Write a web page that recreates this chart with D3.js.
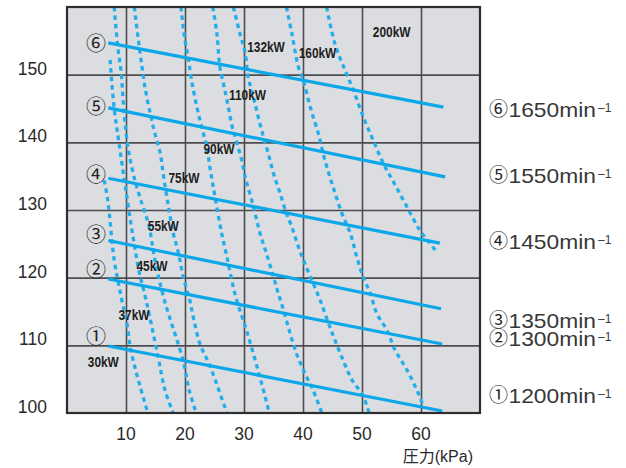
<!DOCTYPE html>
<html><head><meta charset="utf-8">
<script src="https://cdn.jsdelivr.net/npm/d3@7"></script>
<style>body{margin:0;background:#fff}svg{display:block}</style>
</head><body><svg id="c" width="626" height="468"></svg>
<script>
// ---- data ----
const pressureTicks = [10, 20, 30, 40, 50, 60];
const flowTicks = [100, 110, 120, 130, 140, 150];
const speedMarks = ["①", "②", "③", "④", "⑤", "⑥"];
const speedRpm = ["1200", "1300", "1350", "1450", "1550", "1650"];
const speedStart = [[7, 109.9], [7, 119.8], [7, 125.5], [7, 134.7], [7, 145.1], [7, 154.7]];
const speedEnd = [[63.6, 100.3], [63.6, 110.2], [63.4, 115.4], [63.2, 125.1], [64.1, 134.9], [63.8, 145.2]];
const powerLabels = ["30kW", "37kW", "45kW", "55kW", "75kW", "90kW", "110kW", "132kW", "160kW", "200kW"];
const kw30 = [];
const kw37 = [[6.3,134.4],[6.9,131.5],[8.0,122.6],[9.2,117.1],[10.2,113.0],[10.7,109.8],[11.5,106.8],[12.4,103.9],[13.7,100]];
const kw45 = [[7.3,152.2],[8.0,145],[8.8,140],[9.9,133.4],[11.2,126],[12.2,121],[13.4,116.7],[15.4,108.5],[16.6,103.4],[18.0,100]];
const kw55 = [[8.0,160],[8.6,154.1],[9.2,150.2],[9.5,146.3],[9.9,142.3],[10.5,138.4],[11.5,134.4],[12.5,131.5],[13.9,127.6],[14.9,122.6],[16.5,116.7],[19.7,107.7],[20.7,103.4],[21.9,100]];
const kw75 = [[11.4,160],[12.1,155.1],[12.7,151.2],[13.2,148.2],[14.1,144.3],[14.9,141.3],[15.8,138.4],[16.3,135.4],[17.2,130.5],[18.0,126.6],[18.9,123.6],[19.7,120.1],[20.8,116.7],[21.4,114.2],[22.5,110.3],[24.2,107.0],[27.1,100]];
const kw90 = [[19.3,160],[20.0,155.1],[20.6,152.2],[21.1,149.2],[22.0,145.3],[22.8,142.3],[23.7,139.4],[24.2,136.4],[24.8,133.4],[26.2,126.6],[27.1,123.1],[28.5,117.5],[30.5,112],[32.6,105.6],[34.3,100]];
const kw110 = [[24.7,160],[25.4,156.1],[25.9,151.2],[26.5,148.7],[27.1,146.3],[28.0,142.3],[28.8,139.9],[29.6,137.4],[30.2,134.9],[31.6,130.5],[32.7,126.6],[33.8,123.6],[35.0,120.1],[35.8,117.7],[36.7,115.2],[37.8,111.8],[38.9,108.8],[40.3,105.9],[41.7,103.4],[43.2,100]];
const kw132 = [[28.2,160],[29.3,156.1],[30.2,153.2],[30.7,149.7],[31.6,146.7],[32.4,143.8],[33.3,140.8],[34.1,138.4],[35.0,135.4],[36.1,132.5],[37.2,129.5],[38.1,127.5],[39.2,124.6],[40.3,122.1],[41.7,119.2],[42.9,116.7],[44.3,113.3],[45.4,110.8],[46.8,107.8],[48.3,104.9],[50.2,102.5],[51.2,100]];
const kw160 = [[37.2,160],[38.1,156.1],[39.2,151.2],[40.1,149.0],[41.2,145.3],[42.6,141.3],[43.7,137.4],[45.1,133.4],[46.6,129.5],[48.0,126.6],[49.1,123.1],[50.2,120.1],[51.4,117.7],[52.5,114.7],[54.2,112.3],[55.6,109.3],[57.6,106.4],[59.8,102.4],[60.3,101.2]];
const kw200 = [[44.0,160],[45.4,154.6],[47.1,150.7],[48.5,147.8],[50.2,143.8],[51.9,140.3],[53.6,136.9],[55.3,134.2],[57.6,130.5],[59.8,127.0],[61.5,125.1],[62.4,124.1]];
const powerCurves = [kw30, kw37, kw45, kw55, kw75, kw90, kw110, kw132, kw160, kw200];

// ---- layout ----
const svg = d3.select("#c");
const x = d3.scaleLinear().domain([0, 70]).range([67, 480]);
const y = d3.scaleLinear().domain([100, 160]).range([413, 7]);
const BLUE = "#0ba7e8", DOT = "#22aeeb";
const sans = "'Liberation Sans', Arial, Helvetica, sans-serif";
const cjk = "'Noto Sans CJK JP', 'DejaVu Sans', sans-serif";

svg.append("rect").attr("x", x(0)).attr("y", y(160)).attr("width", x(70) - x(0)).attr("height", y(100) - y(160)).attr("fill", "#dcdde0");

// grid via axes
svg.append("g").attr("transform", `translate(0,${y(100)})`)
  .call(d3.axisBottom(x).tickValues(pressureTicks).tickSize(-(y(100) - y(160))).tickFormat(""))
  .call(g => g.select(".domain").remove())
  .call(g => g.selectAll("line").attr("stroke", "#4d4d4f").attr("stroke-width", 1.6));
svg.append("g").attr("transform", `translate(${x(0)},0)`)
  .call(d3.axisLeft(y).tickValues(flowTicks.slice(1)).tickSize(-(x(70) - x(0))).tickFormat(""))
  .call(g => g.select(".domain").remove())
  .call(g => g.selectAll("line").attr("stroke", "#4d4d4f").attr("stroke-width", 1.6));

// tick labels
svg.append("g").selectAll("text").data(flowTicks).join("text")
  .attr("x", 47).attr("y", d => y(d)).attr("text-anchor", "end")
  .attr("font-family", sans).attr("font-size", 17.5).attr("fill", "#2a2a2a").text(d => d);
svg.append("g").selectAll("text").data(pressureTicks).join("text")
  .attr("x", d => x(d)).attr("y", 439.5).attr("text-anchor", "middle")
  .attr("font-family", sans).attr("font-size", 17.5).attr("fill", "#2a2a2a").text(d => d);
svg.append("text").attr("x", 473).attr("y", 461.5).attr("text-anchor", "end")
  .attr("font-family", sans + ", 'Noto Sans CJK JP'").attr("font-size", 16).attr("fill", "#2a2a2a").text("圧力(kPa)");

// power curves (dotted)
const pline = d3.line().x(d => x(d[0])).y(d => y(d[1])).curve(d3.curveCatmullRom.alpha(0.5));
svg.append("g").selectAll("path").data(powerCurves.filter(c => c.length)).join("path")
  .attr("d", pline).attr("fill", "none").attr("stroke", DOT).attr("stroke-width", 3.3)
  .attr("stroke-dasharray", "4.5,4");

// speed lines
const speedData = speedStart.map((s, i) => [s, speedEnd[i]]);
svg.append("g").selectAll("path").data(speedData).join("path")
  .attr("d", d3.line().x(d => x(d[0])).y(d => y(d[1])))
  .attr("fill", "none").attr("stroke", BLUE).attr("stroke-width", 3.2);

// left circled markers
const markY = [336.7, 269.3, 235, 175, 106.7, 43.3];
svg.append("g").selectAll("text").data(speedMarks).join("text")
  .attr("x", 96).attr("y", (d, i) => markY[i]).attr("dy", "0.36em").attr("text-anchor", "middle")
  .attr("font-family", cjk).attr("font-size", 20).attr("fill", "#222").text(d => d);

// right labels
const labBase = [402.5, 345.5, 327.5, 248.5, 182.5, 116.5];
const rg = svg.append("g").selectAll("g").data(speedRpm).join("g");
rg.append("text").attr("x", 498.5).attr("y", (d, i) => labBase[i] - 0.3).attr("text-anchor", "middle")
  .attr("font-family", cjk).attr("font-size", 19).attr("fill", "#222").text((d, i) => speedMarks[i]);
rg.append("text").attr("transform", (d, i) => `translate(508.5,${labBase[i]}) scale(1.14,1)`)
  .attr("font-family", sans).attr("font-size", 20).attr("fill", "#383838").text(d => d + "min");
rg.append("text").attr("x", 598).attr("y", (d, i) => labBase[i] - 4.5)
  .attr("font-family", sans).attr("font-size", 12).attr("fill", "#383838").text("–1");

// kW labels
const kwPos = [[103.3,361.7],[134,315],[152,266],[163.3,226],[184,178.3],[219,149],[247.5,95],[266,46.5],[317.5,53.3],[391.7,31.8]];
svg.append("g").selectAll("text").data(powerLabels).join("text")
  .attr("transform", (d, i) => `translate(${kwPos[i][0]},${kwPos[i][1]}) scale(0.85,1)`)
  .attr("dy", "0.36em").attr("text-anchor", "middle")
  .attr("font-family", sans).attr("font-weight", "bold").attr("font-size", 14).attr("fill", "#1e1e1e").text(d => d);

// frame
svg.append("rect").attr("x", x(0)).attr("y", y(160)).attr("width", x(70) - x(0)).attr("height", y(100) - y(160))
  .attr("fill", "none").attr("stroke", "#2e2e2e").attr("stroke-width", 2.2);
</script></body></html>
